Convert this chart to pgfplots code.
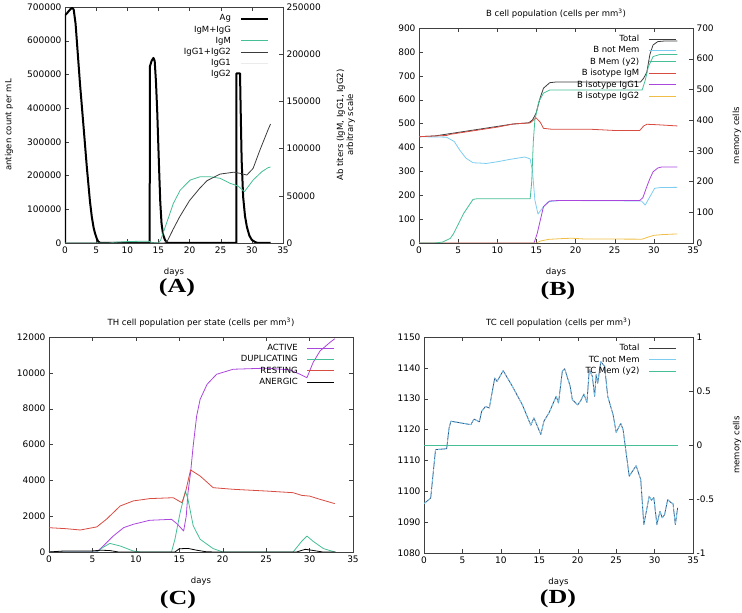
\documentclass[border=0pt]{standalone}
\usepackage{pgfplots}
\pgfplotsset{compat=1.18}
\usepackage{graphicx}
\usepackage{fontspec}
\setmainfont{DejaVu Sans}
\newfontfamily\capfont{Liberation Serif}

\definecolor{cteal}{RGB}{70,190,150}
\definecolor{cblue}{RGB}{125,205,240}
\definecolor{cred}{RGB}{215,75,65}
\definecolor{cpurple}{RGB}{170,70,220}
\definecolor{cgold}{RGB}{240,190,70}
\definecolor{cgray}{RGB}{60,60,60}
\definecolor{cdblue}{RGB}{40,80,130}

\tikzset{lw/.style={line width=0.8pt, line join=round}}

\pgfplotsset{
  gp/.style={
    scale only axis,
    xmin=0, xmax=35, xtick={0,5,...,35},
    axis line style={black!75},
    major tick length=4pt,
    tick style={black!75},
    tick label style={font=\fontsize{9}{10}\selectfont},
    label style={font=\fontsize{8.5}{10}\selectfont},
    title style={font=\fontsize{8.5}{10}\selectfont},
    xlabel style={yshift=-8pt},
    ylabel shift=7pt,
    /pgf/number format/fixed,
    /pgf/number format/assume math mode=true,
    /pgf/number format/1000 sep={},
    scaled y ticks=false,
    legend style={draw=none, fill=none, font=\fontsize{8.5}{10}\selectfont,
      at={(0.95,0.985)}, anchor=north east, row sep=-0.6pt,
      /tikz/every odd column/.append style={column sep=7pt}},
    legend cell align=right,
    legend plot pos=right,
    legend image code/.code={\draw[##1] (0pt,0pt) -- (27pt,0pt);},
    xlabel=days,
  },
}

\begin{document}
\begin{tikzpicture}
\path[use as bounding box] (0pt,0pt) rectangle (742pt,613pt);

% ---------------- Panel A ----------------
\begin{axis}[gp, at={(65pt,370pt)}, anchor=south west, width=218pt, height=236pt,
  ymin=0, ymax=700000, ytick={0,100000,...,700000}, ytick pos=left,
  ylabel={antigen count per mL}]
\addplot[black, line width=2pt, line join=round] table {
0 0
0.02 676000
0.3 681000
0.7 690000
1.0 696000
1.2 697000
1.4 692000
1.7 650000
2.4 474000
3.0 340000
3.5 226000
4.0 125000
4.3 78000
4.6 45000
4.8 30000
5.1 13000
5.35 4000
5.6 1000
5.9 0
13.6 0
13.62 523000
13.9 540000
14.2 549000
14.4 540000
14.6 480000
14.8 394000
15.0 280000
15.15 197000
15.3 120000
15.5 58000
15.75 25000
16.05 9000
16.3 3000
16.6 0
27.5 0
27.52 503000
28.1 503000
28.2 400000
28.36 246000
28.6 137000
28.9 80000
29.2 48000
29.6 22000
30.0 9000
30.5 3000
31.0 0
33 0
};
\end{axis}
\begin{axis}[gp, at={(65pt,370pt)}, anchor=south west, width=218pt, height=236pt,
  axis x line=none, axis y line*=right, xlabel={},
  ymin=0, ymax=250000, ytick={0,50000,...,250000}, ylabel shift=9pt,
  ylabel={Ab titers (IgM, IgG1, IgG2)\\arbitrary scale}, ylabel style={align=center}]
\addlegendimage{black, line width=2pt}\addlegendentry{Ag}
\addlegendimage{empty legend}\addlegendentry{IgM+IgG}
\addplot[cteal, lw] table {
0 0
7 0
8 800
10 1500
12 1800
13.5 1800
14 500
15 0
15.35 3000
16.3 20900
17.4 42000
18.5 56000
20.1 66700
21.7 70200
23.3 70200
24.9 68500
26.5 63200
27.8 60300
28.8 54300
30.2 66700
31.6 75500
32.6 79800
33 80500
};
\addlegendentry{IgM}
\addplot[cgray, lw] table {
0 0
16 0
16.5 3000
17.4 15000
18.4 27600
20 45000
21.6 57700
22.8 66000
24.9 73000
27.1 75000
28.1 73800
29.2 72000
30.2 79000
31.3 98500
32.6 120000
33 126000
};
\addlegendentry{IgG1+IgG2}
\addlegendimage{black!8, lw}\addlegendentry{IgG1}
\addlegendimage{empty legend}\addlegendentry{IgG2}
\end{axis}

% ---------------- Panel B ----------------
\begin{axis}[gp, at={(419pt,370pt)}, anchor=south west, width=274pt, height=215pt,
  ymin=0, ymax=900, ytick={0,100,...,900}, ytick pos=left,
  title={B cell population (cells per mm\textsuperscript{3})}]
\addplot[cgray, lw] table {
0 445
2 448
4 458
6 468
8 478
10 488
12 498
14 503
14.5 515
14.95 543
15.5 610
15.9 648
16.7 671
17.5 674
28.3 674
28.7 690
29.1 715
29.5 790
29.9 829
30.5 843
31.5 846
33 846
};
\addplot[cblue, lw] table {
0 445
3.5 443
4.5 425
5.2 389
6.0 355
6.9 336
8.6 333
10 340
11.6 350
13.5 360
14.2 352
14.5 300
14.8 180
15.2 121
15.9 152
16.5 173
18 178
28.4 176
28.9 159
29.5 194
30.1 229
30.8 232
33 233
};
\addplot[cred, lw] table {
0 445
2 448
3.5 450
4 455
6 465
8 475
10 485
12 498
14.2 503
14.95 524
15.5 505
15.9 480
17 476
22 476
25 471
28.2 471
28.7 490
29.1 497
30.5 495
33 490
};
\addplot[cpurple, lw] table {
0 0
14.7 0
15.1 40
15.5 96
15.9 152
16.7 176
18 178
28.2 178
28.6 190
29.1 236
29.5 270
29.9 298
30.5 314
31 318
33 318
};
\addplot[cgold, lw] table {
0 0
15 0
15.5 8
16.5 15
18 18
19.5 20
21 17
28.5 16
29.3 25
30 32
31 35
33 38
};
\end{axis}
\begin{axis}[gp, at={(419pt,370pt)}, anchor=south west, width=274pt, height=215pt,
  axis x line=none, axis y line*=right, xlabel={}, ylabel shift=12pt,
  ymin=0, ymax=700, ytick={0,100,...,700}, ylabel={memory cells}]
\addlegendimage{cgray, lw}\addlegendentry{Total}
\addlegendimage{cblue, lw}\addlegendentry{B not Mem}
\addplot[cteal, lw] table {
0 0
2 0
3 3
4 15
4.4 30
5.0 60
5.7 96
6.9 142
7.4 144
14.2 144
14.4 200
14.6 330
14.8 400
15.3 460
15.9 488
16.7 498
28.5 498
28.9 530
29.3 574
29.9 607
30.8 614
33 614
};
\addlegendentry{B Mem (y2)}
\addlegendimage{cred, lw}\addlegendentry{B isotype IgM}
\addlegendimage{cpurple, lw}\addlegendentry{B isotype IgG1}
\addlegendimage{cgold, lw}\addlegendentry{B isotype IgG2}
\end{axis}

% ---------------- Panel C ----------------
\begin{axis}[gp, at={(49pt,61pt)}, anchor=south west, width=304pt, height=215pt,
  ymin=0, ymax=12000, ytick={0,2000,...,12000},
  title={TH cell population per state (cells per mm\textsuperscript{3})}]
\addplot[cpurple, lw] table {
0 0
5.5 0
6.25 335
7.4 893
8.6 1360
9.7 1545
11.6 1770
14.1 1823
14.8 1550
15.5 1170
15.8 2000
16.0 3310
16.3 4430
16.6 5920
17.0 7590
17.4 8520
18.2 9360
19.3 9920
21.2 10200
25 10260
27.7 10170
28.9 9920
29.7 9730
30.4 10570
31.2 11220
32.4 11720
32.9 11900
};
\addlegendentry{ACTIVE}
\addplot[cteal, lw] table {
0 0
5.5 0
6.2 250
7.0 480
8.2 335
9.7 56
10.5 0
14.1 0
14.5 710
15.1 2200
15.7 3400
16.0 2950
16.6 1470
17.4 710
18.9 190
20 0
28.1 0
29.1 600
29.7 890
30.4 600
31.6 190
32.9 0
};
\addlegendentry{DUPLICATING}
\addplot[cred, lw] table {
0 1357
2 1300
3.6 1228
5.5 1400
6.6 1823
8.2 2570
9.7 2850
11.6 2980
14.3 3030
15.3 2750
15.7 3310
16.3 4580
17.4 4240
18.9 3590
21.2 3500
25.1 3400
28.1 3310
29.1 3160
30.0 3120
31.2 2940
32.9 2700
};
\addlegendentry{RESTING}
\addplot[black, lw] table {
0 0
1.5 50
5 60
6 100
7 80
8 0
14.5 0
15 180
16 200
17 100
18 20
19 0
28.5 0
29.5 150
30.5 80
31.5 0
33 0
};
\addlegendentry{ANERGIC}
\end{axis}

% ---------------- Panel D ----------------
\begin{axis}[gp, at={(424pt,60pt)}, anchor=south west, width=269pt, height=216pt,
  ymin=1080, ymax=1150, ytick={1080,1090,...,1150}, ytick pos=left,
  title={TC cell population (cells per mm\textsuperscript{3})}]
\addplot[cdblue, lw] table[x=d, y=v] {
d v
0 1096
0.87 1097.8
1.5 1113.5
2.95 1113.8
3.26 1120.5
3.5 1122.7
6.1 1121.6
6.5 1123.4
7.2 1122.5
7.5 1125.9
8.0 1127.5
8.5 1127
9.2 1136.7
9.5 1135.6
10.3 1139.1
11.5 1134
12.8 1128
13.9 1121.4
14.3 1123.8
15.2 1118.4
15.6 1122.7
16.3 1125.6
17.2 1130.8
17.5 1128.6
18.0 1139
18.3 1139.7
19.0 1134.2
19.3 1129.7
20.0 1128
20.4 1129.4
20.8 1131.5
21.2 1128.8
21.5 1139.4
21.9 1137.3
22.2 1130.8
22.4 1137.8
22.6 1135
23.0 1142
23.5 1140.5
23.9 1130.8
24.6 1124.8
25.0 1119.1
25.6 1122
25.9 1120
26.7 1104.9
27.6 1108.3
28.2 1103.8
28.6 1089.2
29.3 1098.4
29.6 1097.1
29.9 1098
30.3 1089.2
30.7 1093.5
31.0 1091.4
31.3 1092.4
31.7 1097.3
32.1 1096.4
32.4 1096
32.7 1089.2
33.0 1094.6
};
\addplot[cblue, lw, dash pattern=on 3pt off 2pt] table[x=d, y=v] {
d v
0 1096
0.87 1097.8
1.5 1113.5
2.95 1113.8
3.26 1120.5
3.5 1122.7
6.1 1121.6
6.5 1123.4
7.2 1122.5
7.5 1125.9
8.0 1127.5
8.5 1127
9.2 1136.7
9.5 1135.6
10.3 1139.1
11.5 1134
12.8 1128
13.9 1121.4
14.3 1123.8
15.2 1118.4
15.6 1122.7
16.3 1125.6
17.2 1130.8
17.5 1128.6
18.0 1139
18.3 1139.7
19.0 1134.2
19.3 1129.7
20.0 1128
20.4 1129.4
20.8 1131.5
21.2 1128.8
21.5 1139.4
21.9 1137.3
22.2 1130.8
22.4 1137.8
22.6 1135
23.0 1142
23.5 1140.5
23.9 1130.8
24.6 1124.8
25.0 1119.1
25.6 1122
25.9 1120
26.7 1104.9
27.6 1108.3
28.2 1103.8
28.6 1089.2
29.3 1098.4
29.6 1097.1
29.9 1098
30.3 1089.2
30.7 1093.5
31.0 1091.4
31.3 1092.4
31.7 1097.3
32.1 1096.4
32.4 1096
32.7 1089.2
33.0 1094.6
};
\end{axis}
\begin{axis}[gp, at={(424pt,60pt)}, anchor=south west, width=269pt, height=216pt,
  axis x line=none, axis y line*=right, xlabel={}, ylabel shift=12pt,
  ymin=-1, ymax=1, ytick={-1,-0.5,0,0.5,1}, ylabel={memory cells}]
\addlegendimage{cgray, lw}\addlegendentry{Total}
\addlegendimage{cblue, lw}\addlegendentry{TC not Mem}
\addplot[cteal, lw] table {
0 0
33 0
};
\addlegendentry{TC Mem (y2)}
\end{axis}

% captions
\node[font=\capfont\bfseries\fontsize{20}{22}\selectfont] at (177pt,325pt) {\scalebox{1.3}[1]{(A)}};
\node[font=\capfont\bfseries\fontsize{20}{22}\selectfont] at (558pt,322pt) {\scalebox{1.3}[1]{(B)}};
\node[font=\capfont\bfseries\fontsize{20}{22}\selectfont] at (178pt,13pt) {\scalebox{1.3}[1]{(C)}};
\node[font=\capfont\bfseries\fontsize{20}{22}\selectfont] at (558pt,14pt) {\scalebox{1.3}[1]{(D)}};
\end{tikzpicture}
\end{document}
